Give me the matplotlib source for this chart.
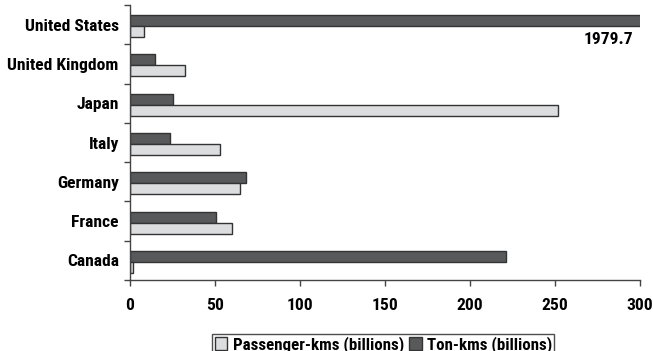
import matplotlib
matplotlib.use("Agg")
import matplotlib.pyplot as plt
import numpy as np
from matplotlib.patches import Patch

countries = ["Canada", "France", "Germany", "Italy", "Japan", "United Kingdom", "United States"]
passenger_kms = [2, 60.2, 64.7, 52.7, 252, 32.4, 8.2]
ton_kms = [221.2, 50.6, 68.2, 23.7, 25.1, 14.7, 1979.7]
xticks = [0, 50, 100, 150, 200, 250, 300]
label_us = "1979.7"

FAM = ['Roboto Condensed', 'DejaVu Sans']
plt.rcParams['font.family'] = FAM
plt.rcParams['font.weight'] = 'bold'

FS = 12.6
LFS = 12.2
W = 'bold'
dark = '#58595b'
light = '#dcdddf'
edge = '#333333'

fig = plt.figure(figsize=(6.53, 3.51), dpi=100)
ax = fig.add_axes([0.199, 0.202, 0.781, 0.784])

y = np.arange(len(countries))
h = 0.28
ax.barh(y + h/2 - 0.04, ton_kms, height=h, color=dark, edgecolor=edge, linewidth=1.0)
ax.barh(y - h/2 - 0.04, passenger_kms, height=h, color=light, edgecolor=edge, linewidth=1.0)

ax.set_xlim(0, 300)
ax.set_ylim(-0.5, len(countries) - 0.5)
ax.set_xticks(xticks)
ax.set_xticklabels([str(t) for t in xticks], fontsize=FS, fontweight=W)
ax.set_yticks(y)
ax.set_yticklabels(countries, fontsize=FS, fontweight=W)
ax.set_yticks(np.arange(-0.5, len(countries), 1.0), minor=True)
ax.tick_params(axis='y', which='major', length=0, pad=8)
ax.tick_params(axis='y', which='minor', length=4, width=1, color='#444444', direction='out')
ax.tick_params(axis='x', which='major', length=4, width=1, color='#444444', direction='out', pad=9)

for s in ['top', 'right']:
    ax.spines[s].set_visible(False)
for s in ['left', 'bottom']:
    ax.spines[s].set_color('#444444')
    ax.spines[s].set_linewidth(1)

ax.text(296, 5.61, label_us, ha='right', va='center', fontsize=FS, fontweight=W)

handles = [Patch(facecolor=light, edgecolor=edge, linewidth=1), Patch(facecolor=dark, edgecolor=edge, linewidth=1)]
leg = fig.legend(handles, ["Passenger-kms (billions)", "Ton-kms (billions)"], loc='upper center',
                 bbox_to_anchor=(0.587, 0.049), ncol=2, frameon=True, fancybox=False,
                 borderaxespad=0, handlelength=0.75, handleheight=0.75, handletextpad=0.3,
                 columnspacing=0.3, borderpad=0.15,
                 prop={'size': LFS, 'weight': W, 'family': FAM})
leg.get_frame().set_edgecolor('#222222')
leg.get_frame().set_linewidth(1)

fig.savefig("out.png", dpi=100)
